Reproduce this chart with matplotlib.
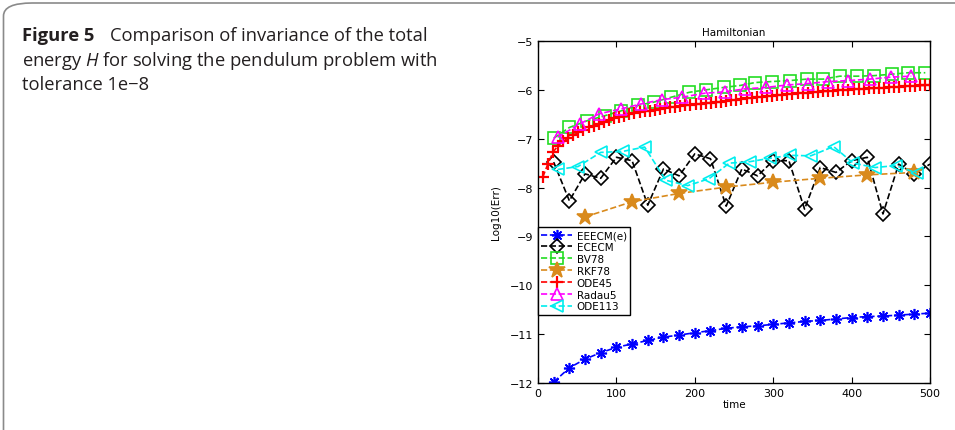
import numpy as np
import matplotlib
matplotlib.use("Agg")
import matplotlib.pyplot as plt
from matplotlib.patches import FancyBboxPatch

# ---- data ----
t_eeecm = [20, 40, 60, 80, 100, 120, 140, 160, 180, 200, 220, 240, 260,
           280, 300, 320, 340, 360, 380, 400, 420, 440, 460, 480, 500]
eeecm = [-11.98, -11.69, -11.51, -11.38, -11.27, -11.20, -11.13, -11.06,
         -11.02, -10.97, -10.93, -10.88, -10.85, -10.83, -10.80, -10.77,
         -10.74, -10.72, -10.69, -10.66, -10.64, -10.63, -10.61, -10.59, -10.57]

t_ececm = t_eeecm
ececm = [-7.48, -8.27, -7.72, -7.81, -7.38, -7.45, -8.36, -7.62, -7.76, -7.31,
         -7.41, -8.38, -7.62, -7.76, -7.45, -7.45, -8.44, -7.59, -7.69, -7.45,
         -7.38, -8.54, -7.52, -7.72, -7.52]

t_bv78 = [20, 40, 63, 85, 106, 127, 148, 170, 193, 214, 237, 258, 277, 298,
          321, 343, 364, 385, 407, 428, 451, 472, 494]
bv78 = [-6.99, -6.77, -6.63, -6.53, -6.43, -6.32, -6.25, -6.15, -6.05, -6.00,
        -5.95, -5.91, -5.85, -5.83, -5.81, -5.78, -5.78, -5.72, -5.72, -5.71,
        -5.68, -5.65, -5.65]

t_rkf78 = [60, 120, 180, 240, 300, 360, 420, 480]
rkf78 = [-8.60, -8.29, -8.12, -7.99, -7.89, -7.81, -7.74, -7.69]

t_ode45 = [6, 12.5, 19, 25.5, 32, 38.5, 45, 51.5, 58, 64.5, 71, 77.5, 84, 90.5,
           97, 103.5, 110, 116.5, 123, 129.5, 136, 142.5, 149, 155.5, 162,
           168.5, 175, 181.5, 188, 194.5, 201, 207.5, 214, 220.5, 227, 233.5,
           240, 246.5, 253, 259.5, 266, 272.5, 279, 285.5, 292, 298.5, 305,
           311.5, 318, 324.5, 331, 337.5, 344, 350.5, 357, 363.5, 370, 376.5,
           383, 389.5, 396, 402.5, 409, 415.5, 422, 428.5, 435, 441.5, 448,
           454.5, 461, 467.5, 474, 480.5, 487, 493.5, 500]
ode45 = [-7.79, -7.52, -7.28, -7.14, -7.04, -6.99, -6.93, -6.87, -6.82, -6.77,
         -6.73, -6.69, -6.65, -6.62, -6.58, -6.55, -6.53, -6.50, -6.48, -6.46,
         -6.44, -6.43, -6.41, -6.39, -6.38, -6.36, -6.35, -6.33, -6.32, -6.30,
         -6.29, -6.28, -6.27, -6.26, -6.25, -6.24, -6.23, -6.21, -6.20, -6.19,
         -6.17, -6.16, -6.15, -6.14, -6.13, -6.12, -6.11, -6.10, -6.09, -6.08,
         -6.07, -6.06, -6.06, -6.05, -6.04, -6.03, -6.03, -6.02, -6.01, -6.00,
         -6.00, -5.99, -5.98, -5.98, -5.97, -5.97, -5.96, -5.96, -5.95, -5.94,
         -5.94, -5.93, -5.92, -5.92, -5.91, -5.91, -5.90]

t_radau5 = [25, 53, 78, 106, 131, 158, 184, 212, 238, 264, 291, 318, 345, 370,
            396, 423, 450, 476]
radau5 = [-6.97, -6.70, -6.49, -6.39, -6.29, -6.20, -6.15, -6.07, -6.04, -5.98,
          -5.95, -5.90, -5.87, -5.83, -5.81, -5.78, -5.74, -5.72]

t_ode113 = [25, 51, 80, 108, 136, 163, 191, 218, 244, 270, 296, 321, 348, 377,
            402, 430, 456, 483]
ode113 = [-7.63, -7.57, -7.28, -7.26, -7.17, -7.85, -7.96, -7.82, -7.50, -7.47,
          -7.40, -7.34, -7.35, -7.16, -7.50, -7.59, -7.55, -7.70]

plt.rcParams["mathtext.fontset"] = "custom"
plt.rcParams["mathtext.it"] = "Open Sans:italic"
plt.rcParams["mathtext.rm"] = "Open Sans"

W, H = 955, 431
fig = plt.figure(figsize=(W / 100, H / 100), dpi=100)

# rounded panel frame
frame = FancyBboxPatch((3.5 / W, -20 / H), (W + 40) / W, (H - 4 + 20) / H,
                       boxstyle="round,pad=0,rounding_size=0.03",
                       transform=fig.transFigure, fill=False,
                       edgecolor="#8a8a8a", linewidth=1.2, clip_on=False)
fig.patches.append(frame)

cap_font = ["Open Sans", "DejaVu Sans"]
cap_size = 13.2
cap_col = "#231f20"
fig.text(22 / W, 1 - 36 / H, "Figure 5", fontsize=cap_size, fontweight="bold",
         family=cap_font, color=cap_col, va="center")
fig.text(110 / W, 1 - 36 / H, "Comparison of invariance of the total",
         fontsize=cap_size, family=cap_font, color=cap_col, va="center")
fig.text(22 / W, 1 - 61 / H, "energy $H$ for solving the pendulum problem with",
         fontsize=cap_size, family=cap_font, color=cap_col, va="center")
fig.text(22 / W, 1 - 85 / H, "tolerance 1e\u22128",
         fontsize=cap_size, family=cap_font, color=cap_col, va="center")

ax = fig.add_axes([538 / W, 47 / H, 392 / W, 342 / H])

lw = 1.2
ms = 8
ax.plot(t_eeecm, eeecm, "--", color="#0000ff", marker=(8, 2, 0), ms=ms,
        mew=lw, lw=lw, label="EEECM(e)")
ax.plot(t_ececm, ececm, "--", color="black", marker="D", ms=7, mfc="none",
        mew=lw, lw=lw, label="ECECM")
ax.plot(t_bv78, bv78, "--", color="#22dd22", marker="s", ms=ms, mfc="none",
        mew=lw, lw=lw, label="BV78")
ax.plot(t_rkf78, rkf78, "--", color="#d98a1c", marker="*", ms=12,
        mew=lw, lw=lw, label="RKF78")
ax.plot(t_ode45, ode45, "--", color="#ff0000", marker="+", ms=ms,
        mew=1.6, lw=lw, label="ODE45")
ax.plot(t_radau5, radau5, "--", color="#ff00ff", marker="^", ms=9, mfc="none",
        mew=lw, lw=lw, label="Radau5")
ax.plot(t_ode113, ode113, "--", color="#00eeee", marker="<", ms=9, mfc="none",
        mew=lw, lw=lw, label="ODE113")

ax.set_xlim(0, 500)
ax.set_ylim(-12, -5)
ax.set_xticks([0, 100, 200, 300, 400, 500])
ax.set_yticks([-12, -11, -10, -9, -8, -7, -6, -5])
ax.tick_params(direction="in", top=True, right=True, length=4,
               labelsize=8, width=0.8)
for s in ax.spines.values():
    s.set_linewidth(1.0)
ax.set_title("Hamiltonian", fontsize=7.5, pad=4)
ax.set_xlabel("time", fontsize=7.5, labelpad=1)
ax.set_ylabel("Log10(Err)", fontsize=7.5, labelpad=6)

leg = ax.legend(loc="upper left", bbox_to_anchor=(0.0, 0.456),
                fontsize=7.5, frameon=True, fancybox=False, borderaxespad=0,
                handlelength=3.0, handletextpad=0.4, labelspacing=0.18,
                borderpad=0.3)
leg.get_frame().set_edgecolor("black")
leg.get_frame().set_linewidth(1.0)
leg.get_frame().set_alpha(1)

fig.savefig("out.png", dpi=100)
